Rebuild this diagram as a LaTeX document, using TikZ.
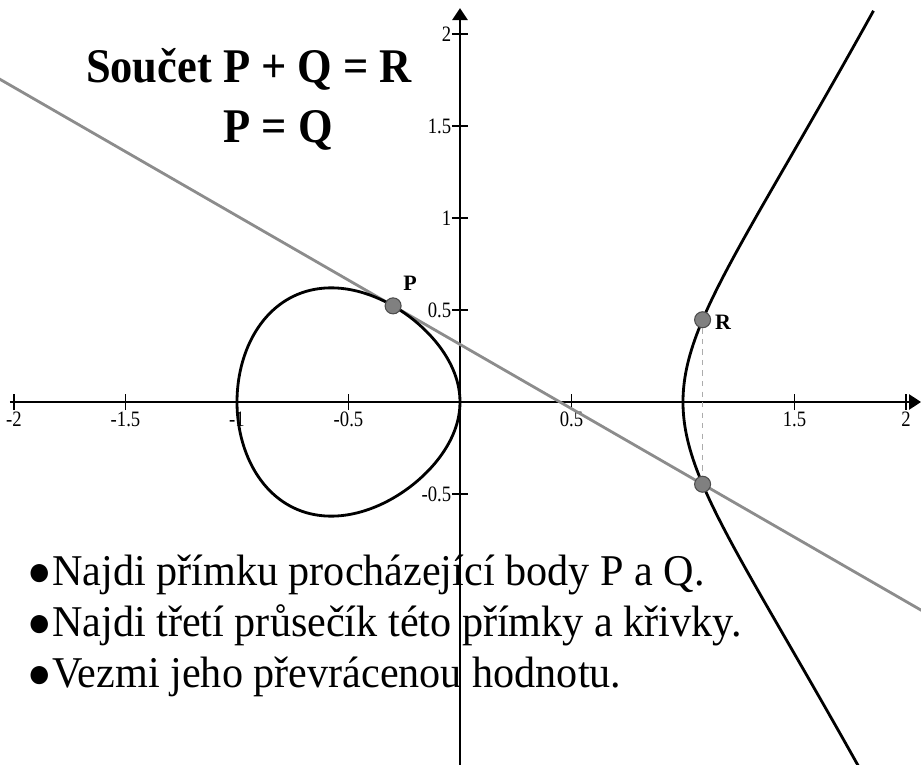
\documentclass[tikz,border=0pt]{standalone}
\usepackage{fontspec}
\setmainfont{Liberation Serif}
\newfontfamily\bodyfont[FakeStretch=0.96]{Liberation Serif}
\newfontfamily\titlefont[FakeStretch=0.92]{Liberation Serif}
\newfontfamily\tickfont[FakeStretch=0.85]{Liberation Serif}
\usepackage{tikz}
\usetikzlibrary{arrows.meta,calc}

\newcommand{\bigdot}{{\fontsize{24}{29}\selectfont ●}}

\begin{document}
\begin{tikzpicture}[
  x=4.46cm, y=3.68cm,
  axis/.style={line width=1.6pt, -{Triangle[length=0.24cm,width=0.3cm]}},
  tick/.style={line width=0.8pt},
  curve/.style={line width=1.6pt, black},
  secant/.style={line width=1.6pt, gray!90},
  pt/.style={circle, fill=gray, draw=black!70, line width=0.6pt, minimum size=0.32cm, inner sep=0pt},
  ticklbl/.style={font=\tickfont\fontsize{12.5}{14}\selectfont, inner sep=0pt},
  bodytxt/.style={font=\bodyfont\fontsize{25}{29}\selectfont, anchor=base west, inner sep=0pt},
  titletxt/.style={font=\titlefont\fontsize{27.5}{32}\selectfont\bfseries, anchor=base, inner sep=0pt},
  ptlbl/.style={font=\fontsize{12.5}{14}\selectfont\bfseries}
]
  \useasboundingbox (-2.0628,-1.9728) rectangle (2.0673,2.1848);

  % tangent at P and third intersection S
  \pgfmathsetmacro{\px}{-0.3}
  \pgfmathsetmacro{\py}{sqrt((\px)*(\px)*(\px)-(\px))}
  \pgfmathsetmacro{\m}{(3*(\px)*(\px)-1)/(2*\py)}
  \pgfmathsetmacro{\sx}{\m*\m-2*(\px)}
  \pgfmathsetmacro{\sy}{\py+\m*(\sx-(\px))}

  % texts
  \node[titletxt] (title) at (-0.946,1.734) {Součet P + Q = R};
  \node[titletxt] (cond) at (-0.816,1.408) {P = Q};
  \node[bodytxt] (step1) at (-1.94,-0.995) {\bigdot Najdi přímku procházející body P a Q.};
  \node[bodytxt] (step2) at (-1.94,-1.277) {\bigdot Najdi třetí průsečík této přímky a křivky.};
  \node[bodytxt] (step3) at (-1.94,-1.549) {\bigdot Vezmi jeho převrácenou hodnotu.};

  % axes
  \draw[axis] (-2.018,0) -- (2.0673,0);
  \draw[axis] (0,-1.98) -- (0,2.141);
  \foreach \x in {-2,-1.5,-1,-0.5,0.5,1,1.5,2}
    \draw[tick] (\x,-0.044) -- (\x,0.044);
  \foreach \x in {-2,-1.5,-1,-0.5,0.5,1.5,2}
    \node[ticklbl, anchor=north] at ([yshift=-0.2cm]\x,0) {\x};
  \foreach \y in {-0.5,0.5,1,1.5,2} {
    \draw[tick] (-0.036,\y) -- (0.036,\y);
    \node[ticklbl, anchor=east] at ([xshift=-0.17cm]0,\y) {\y};
  }

  % line through P
  \coordinate (lineL) at (-2.07,{\py+\m*(-2.07-(\px))});
  \coordinate (lineR) at (2.07,{\py+\m*(2.07-(\px))});
  \draw[secant] (lineL) -- (lineR);

  % curve y^2 = x^3 - x
  \draw[curve] plot[domain=0:360, samples=120, variable=\t, smooth]
    ({-(1-cos(\t))/2}, {sin(\t)/2*sqrt(1+(1-cos(\t))/2)});
  \draw[curve] plot[domain=-0.89:0.925, samples=100, variable=\t, smooth]
    ({1+(\t)*(\t)}, {(\t)*sqrt((1+(\t)*(\t))*(2+(\t)*(\t)))});

  % points
  \node[pt] (S) at (\sx,\sy) {};
  \node[pt] (R) at (\sx,-\sy) {};
  \node[pt] (P) at (\px,\py) {};
  \draw[dashed, gray!65, line width=0.7pt] (R) -- (S);
  \node[ptlbl] (lblP) at (-0.224,0.647) {P};
  \node[ptlbl] (lblR) at (1.18,0.435) {R};
\end{tikzpicture}
\end{document}
